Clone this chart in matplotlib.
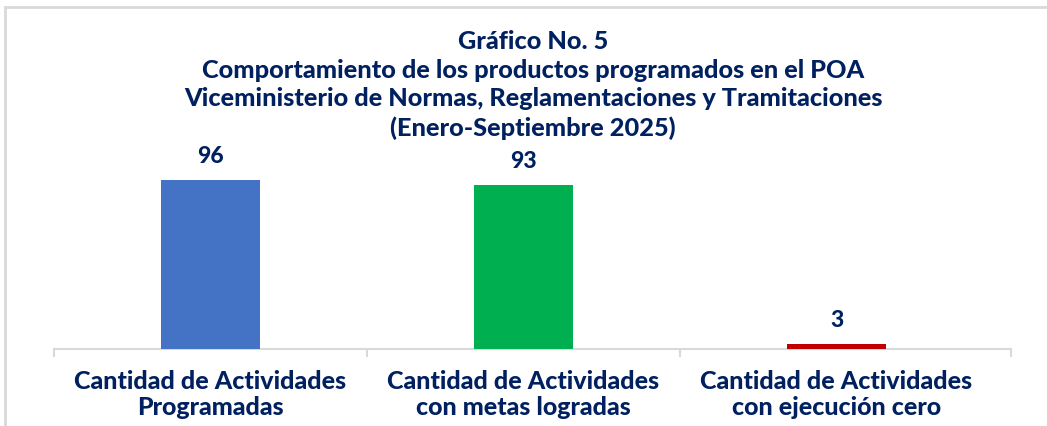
import matplotlib
matplotlib.use("Agg")
import matplotlib.pyplot as plt
from matplotlib.patches import Rectangle

NAVY = "#002060"
GRID_GRAY = "#D9D9D9"

# data
categories = [
    "Cantidad de Actividades\nProgramadas",
    "Cantidad de Actividades\ncon metas logradas",
    "Cantidad de Actividades\ncon ejecución cero",
]
values = [96, 93, 3]
bar_colors = ["#4472C4", "#00B050", "#C00000"]

title_lines = [
    "Gráfico No. 5",
    "Comportamiento de los productos programados en el POA",
    "Viceministerio de Normas, Reglamentaciones y Tramitaciones",
    "(Enero-Septiembre 2025)",
]

plt.rcParams["font.family"] = ["Lato", "DejaVu Sans"]
WEIGHT = "black"

W, H = 1047, 427
fig = plt.figure(figsize=(W / 100, H / 100), dpi=100)
fig.patch.set_facecolor("white")

# chart frame (Excel-like border, cut at right/bottom)
fig.patches.append(Rectangle((5 / W, -0.05), 1.1, (H - 8) / H + 0.05,
                             transform=fig.transFigure, fill=False,
                             edgecolor=GRID_GRAY, linewidth=2))

ax = fig.add_axes([54 / W, 1 - 350 / H, (1011 - 54) / W, 211.2 / H])
x = list(range(len(categories)))
ax.bar(x, values, width=0.316, color=bar_colors, zorder=3)
ax.set_ylim(0, 120)
ax.set_xlim(-0.5, 2.5575)

for xi, v in zip(x, values):
    ax.annotate(str(v), (xi, v), xytext=(0, 13), textcoords="offset points",
                ha="center", va="baseline", fontsize=16.5, fontweight=WEIGHT,
                color=NAVY)

for s in ["top", "right", "left"]:
    ax.spines[s].set_visible(False)
ax.spines["bottom"].set_color(GRID_GRAY)
ax.spines["bottom"].set_linewidth(1.5)
ax.yaxis.set_visible(False)

ax.set_xticks(x)
ax.set_xticklabels(categories, fontsize=18, fontweight=WEIGHT, color=NAVY,
                   linespacing=1.15)
ax.tick_params(axis="x", which="major", length=0, pad=14.5)
ax.set_xticks([-0.5, 0.5, 1.5, 2.5575], minor=True)
ax.tick_params(axis="x", which="minor", length=6, width=1.5, color=GRID_GRAY,
               direction="out")

fig.text(533 / W, 1 - 30 / H, "\n".join(title_lines), ha="center", va="top",
         fontsize=18.2, fontweight=WEIGHT, color=NAVY, linespacing=1.3)

fig.savefig("out.png", dpi=100, facecolor="white")
